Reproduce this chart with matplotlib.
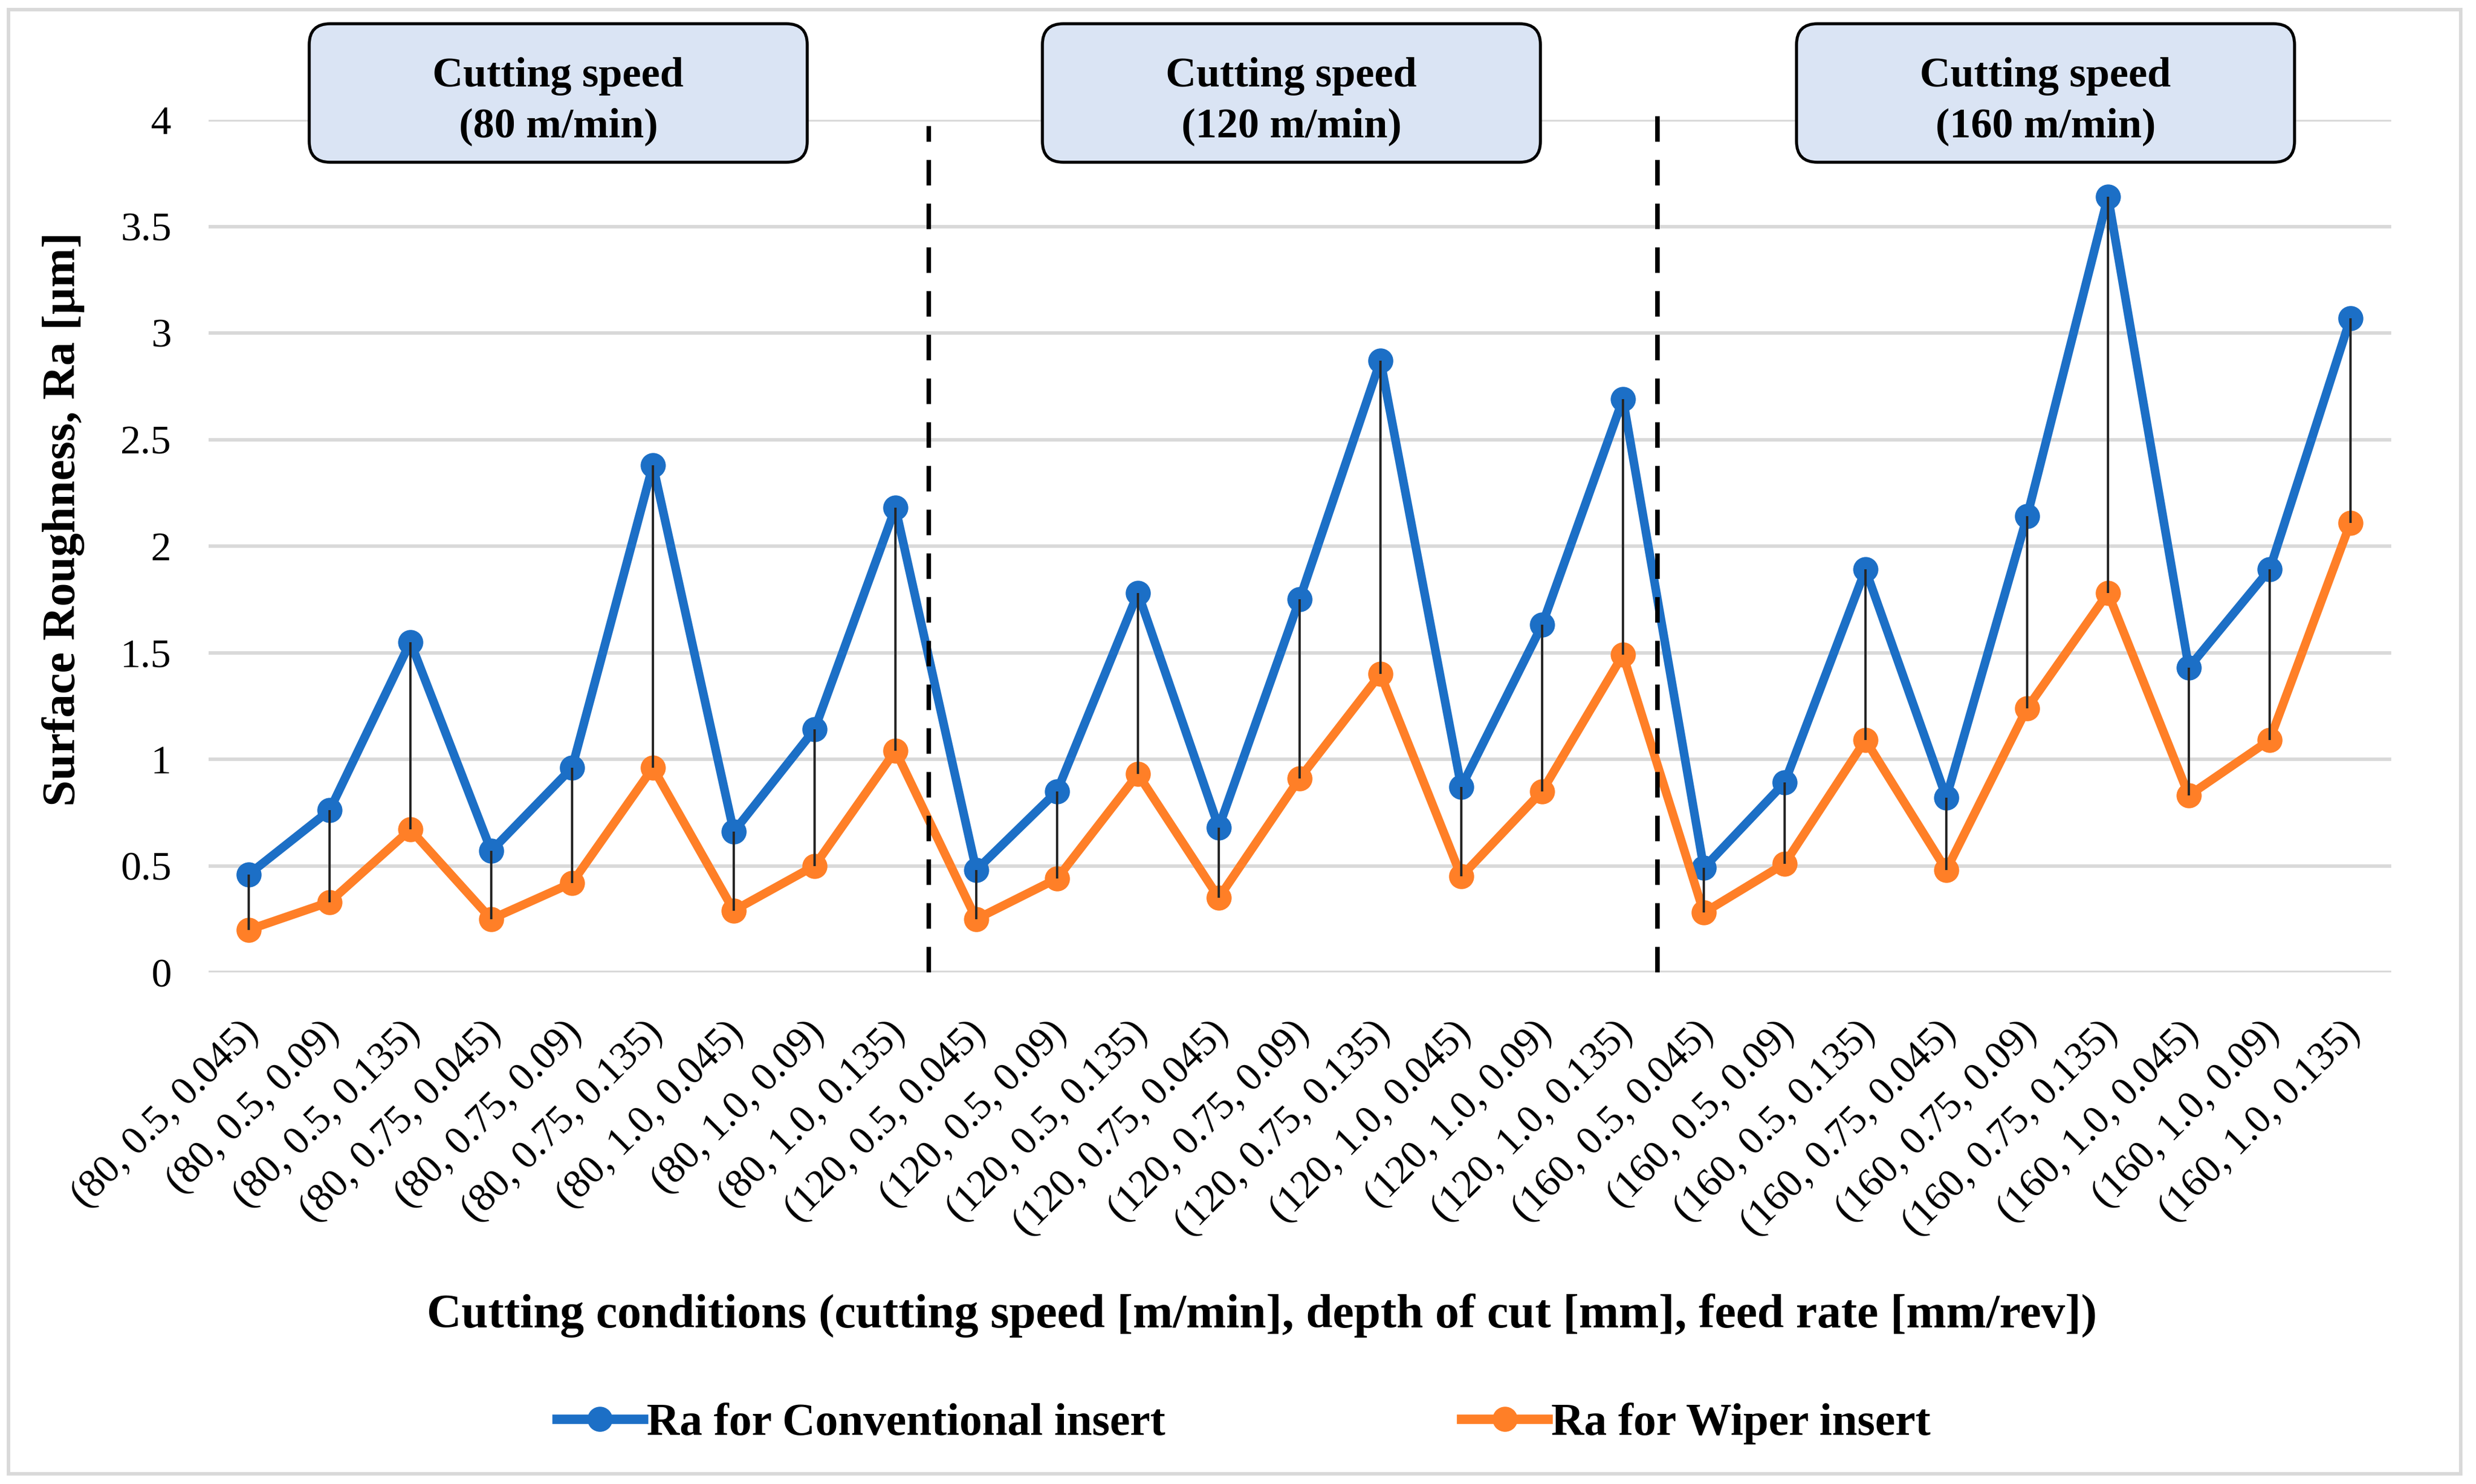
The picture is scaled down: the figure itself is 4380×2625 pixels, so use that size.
import matplotlib
matplotlib.use("Agg")
import matplotlib.pyplot as plt
from matplotlib.patches import FancyBboxPatch, Rectangle
from matplotlib.lines import Line2D
from matplotlib.font_manager import FontProperties
import matplotlib.transforms as mtransforms

# ---------------- data ----------------
conditions = [
    "(80, 0.5, 0.045)", "(80, 0.5, 0.09)", "(80, 0.5, 0.135)",
    "(80, 0.75, 0.045)", "(80, 0.75, 0.09)", "(80, 0.75, 0.135)",
    "(80, 1.0, 0.045)", "(80, 1.0, 0.09)", "(80, 1.0, 0.135)",
    "(120, 0.5, 0.045)", "(120, 0.5, 0.09)", "(120, 0.5, 0.135)",
    "(120, 0.75, 0.045)", "(120, 0.75, 0.09)", "(120, 0.75, 0.135)",
    "(120, 1.0, 0.045)", "(120, 1.0, 0.09)", "(120, 1.0, 0.135)",
    "(160, 0.5, 0.045)", "(160, 0.5, 0.09)", "(160, 0.5, 0.135)",
    "(160, 0.75, 0.045)", "(160, 0.75, 0.09)", "(160, 0.75, 0.135)",
    "(160, 1.0, 0.045)", "(160, 1.0, 0.09)", "(160, 1.0, 0.135)",
]
ra_conventional = [0.46, 0.76, 1.55, 0.57, 0.96, 2.38, 0.66, 1.14, 2.18,
                   0.48, 0.85, 1.78, 0.68, 1.75, 2.87, 0.87, 1.63, 2.69,
                   0.49, 0.89, 1.89, 0.82, 2.14, 3.64, 1.43, 1.89, 3.07]
ra_wiper = [0.20, 0.33, 0.67, 0.25, 0.42, 0.96, 0.29, 0.50, 1.04,
            0.25, 0.44, 0.93, 0.35, 0.91, 1.40, 0.45, 0.85, 1.49,
            0.28, 0.51, 1.09, 0.48, 1.24, 1.78, 0.83, 1.09, 2.11]
group_labels = ["Cutting speed\n(80 m/min)", "Cutting speed\n(120 m/min)",
                "Cutting speed\n(160 m/min)"]
separators = [8.41, 17.43]
separator_tops = [3.97, 4.02]
yticks = [0, 0.5, 1, 1.5, 2, 2.5, 3, 3.5, 4]
ytick_labels = ["0", "0.5", "1", "1.5", "2", "2.5", "3", "3.5", "4"]
series_names = ["Ra for Conventional insert", "Ra for Wiper insert"]

# ---------------- style ----------------
BLUE = "#1C6FC6"
ORANGE = "#FF7F27"
GRID = "#D9D9D9"
SERIF = "Liberation Serif"

W, H, DPI = 4380, 2625, 100
fig = plt.figure(figsize=(W / DPI, H / DPI), dpi=DPI)
fig.patch.set_facecolor("white")

ax = fig.add_axes([368.5 / W, 1 - 1720 / H, (4229.5 - 368.5) / W, (1720 - 212) / H])
x = list(range(len(conditions)))

ax.set_xlim(-0.5, len(conditions) - 0.5)
ax.set_ylim(0, 4)
for s in ax.spines.values():
    s.set_visible(False)
ax.set_yticks(yticks)
ax.set_yticklabels(ytick_labels, fontfamily=SERIF, fontsize=52)
ax.yaxis.grid(True, color=GRID, linewidth=4.5, zorder=0)
ax.set_axisbelow(True)
ax.tick_params(axis="y", length=0, pad=47)
ax.tick_params(axis="x", length=0, pad=70)
ax.set_xticks(x)
ax.set_xticklabels(conditions, fontfamily=SERIF, fontsize=51, rotation=45,
                   ha="right", va="center", rotation_mode="anchor")
offset = mtransforms.ScaledTranslation(5 / 72, 0, fig.dpi_scale_trans)
for lbl in ax.get_xticklabels():
    lbl.set_transform(lbl.get_transform() + offset)

# series
ax.plot(x, ra_conventional, color=BLUE, linewidth=11, marker="o",
        markersize=31, zorder=3, solid_joinstyle="round", solid_capstyle="round")
ax.plot(x, ra_wiper, color=ORANGE, linewidth=11, marker="o",
        markersize=31, zorder=4, solid_joinstyle="round", solid_capstyle="round")
# high-low lines
ax.vlines(x, ra_wiper, ra_conventional, color="#262626", linewidth=3, zorder=5)

# separators
for sx, top in zip(separators, separator_tops):
    ax.plot([sx, sx], [0, top], color="black", linewidth=5.8,
            dashes=(5.6, 4.0), zorder=6, clip_on=False)

# overlay in pixel coordinates for boxes and frame
ov = fig.add_axes([0, 0, 1, 1], zorder=10)
ov.set_xlim(0, W)
ov.set_ylim(H, 0)
ov.axis("off")
ov.patch.set_alpha(0)

ov.add_patch(Rectangle((15, 17), 4353 - 15, 2607 - 17, fill=False,
                       edgecolor=GRID, linewidth=4.5))

box_lefts = [547, 1844, 3178]
box_w, box_top, box_h = 881, 42, 245
for bl, lab in zip(box_lefts, group_labels):
    ov.add_patch(FancyBboxPatch((bl, box_top), box_w, box_h,
                                boxstyle="round,pad=0,rounding_size=37",
                                facecolor="#DAE4F4", edgecolor="black",
                                linewidth=3.8))
    l1, l2 = lab.split("\n")
    cx = bl + box_w / 2
    ov.text(cx, 153, l1, ha="center", va="baseline", fontfamily=SERIF,
            fontweight="bold", fontsize=54)
    ov.text(cx, 242, l2, ha="center", va="baseline", fontfamily=SERIF,
            fontweight="bold", fontsize=54)

# axis titles
ov.text(2232, 2348, "Cutting conditions (cutting speed [m/min], depth of cut [mm], feed rate [mm/rev])",
        ha="center", va="baseline", fontfamily=SERIF, fontweight="bold", fontsize=61)
ov.text(132, 918, "Surface Roughness, Ra [µm]", rotation=90, rotation_mode="anchor",
        ha="center", va="baseline", fontfamily=SERIF, fontweight="bold", fontsize=60)

# legend
handles = [Line2D([0], [0], color=BLUE, linewidth=12, marker="o", markersize=31),
           Line2D([0], [0], color=ORANGE, linewidth=12, marker="o", markersize=31)]
fig.legend(handles, series_names, loc="center", bbox_to_anchor=(2200 / W, 1 - 2518 / H),
           ncol=2, frameon=False,
           prop=FontProperties(family=SERIF, weight="bold", size=58),
           handlelength=1.9, handletextpad=0.08, columnspacing=6.5)

fig.savefig("out.png", dpi=DPI, facecolor="white")
